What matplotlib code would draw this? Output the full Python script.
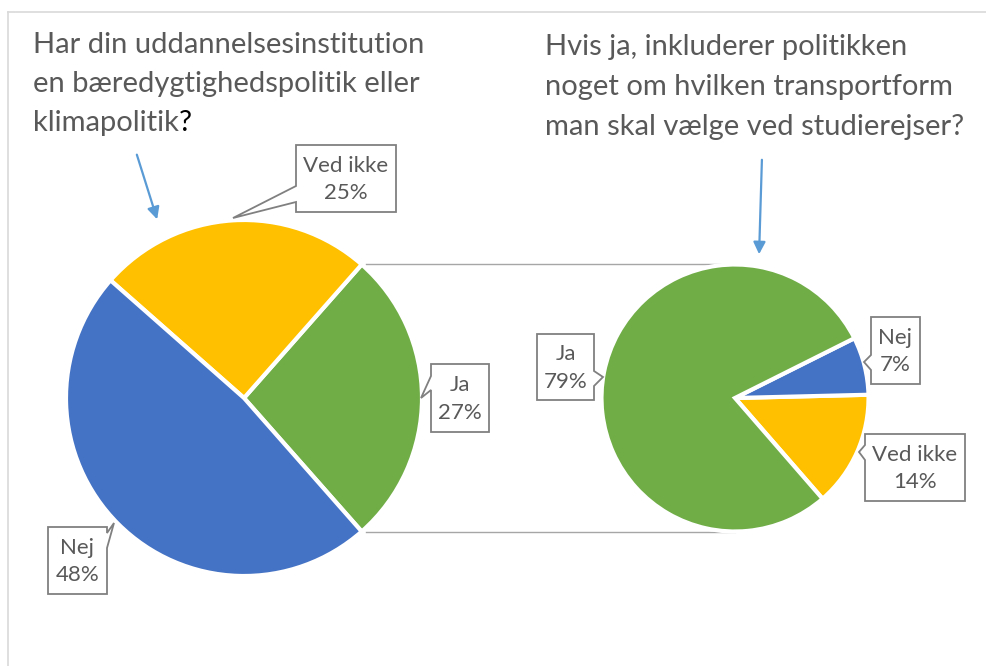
import numpy as np
import matplotlib.pyplot as plt
from matplotlib.patches import Polygon

plt.rcParams['font.family'] = ['Lato', 'DejaVu Sans']

# data
labels_main = ['Ja', 'Ved ikke', 'Nej']
values_main = [27, 25, 48]
colors_main = ['#70AD47', '#FFC000', '#4472C4']

labels_sub = ['Ved ikke', 'Nej', 'Ja']
values_sub = [14, 7, 79]
colors_sub = ['#FFC000', '#4472C4', '#70AD47']

title_main = ['Har din uddannelsesinstitution', 'en bæredygtighedspolitik eller', 'klimapolitik']
title_sub = ['Hvis ja, inkluderer politikken', 'noget om hvilken transportform',
             'man skal vælge ved studierejser?']

W, H = 986, 666
TXT = '#595959'
EDGE = '#808080'


def P(x, y):
    # pixel position (y down) -> data coords (y up)
    return (x, H - y)


fig = plt.figure(figsize=(W / 100, H / 100), dpi=100)
ax = fig.add_axes([0, 0, 1, 1])

# main pie, "Ja" slice centred on the right side
half = values_main[0] / 100 * 360 / 2
c1, r1 = P(244, 398), 178
ax.pie(values_main, colors=colors_main, startangle=-half, center=c1, radius=r1,
       wedgeprops=dict(edgecolor='white', linewidth=3), frame=True)

# secondary pie
r2 = r1 * np.sin(np.radians(half))
c2 = P(735, 398)
ax.pie(values_sub, colors=colors_sub, startangle=-49, center=c2, radius=r2,
       wedgeprops=dict(edgecolor='white', linewidth=3), frame=True)

# connector lines
for s in (1, -1):
    x0 = c1[0] + r1 * np.cos(np.radians(half)) + 4
    y0 = c1[1] + s * r1 * np.sin(np.radians(half))
    ax.plot([x0, c2[0]], [y0, c2[1] + s * r2], color='#A6A6A6', lw=1, zorder=0)

ax.set_xlim(0, W)
ax.set_ylim(0, H)
ax.axis('off')

# chart border (partly visible)
ax.plot([8, W], [H - 12, H - 12], color='#D9D9D9', lw=1.2)
ax.plot([8, 8], [H - 12, 0], color='#D9D9D9', lw=1.2)

# titles
tfs = 21
for i, line in enumerate(title_main):
    t = ax.text(*P(33, 53 + 39 * i), line, fontsize=tfs, color=TXT, va='baseline', ha='left')
ax.annotate('?', xy=(1, 0), xycoords=t, fontsize=tfs, color='black', va='bottom', ha='left')
for i, line in enumerate(title_sub):
    ax.text(*P(545, 55 + 40 * i), line, fontsize=tfs, color=TXT, va='baseline', ha='left')

# arrows
arrow = dict(arrowstyle='-|>', color='#5B9BD5', lw=1.6, mutation_scale=18)
ax.annotate('', xy=P(158, 222), xytext=P(136, 152), arrowprops=arrow)
ax.annotate('', xy=P(759, 257), xytext=P(762, 157), arrowprops=arrow)


def callout(box, side, tail, text):
    x0, y0, x1, y1 = box
    (a, b), tip = tail[:2], tail[2]
    if side == 'left':
        pts = [(x0, y0), (x1, y0), (x1, y1), (x0, y1), (x0, b), tip, (x0, a)]
    elif side == 'right':
        pts = [(x0, y0), (x1, y0), (x1, a), tip, (x1, b), (x1, y1), (x0, y1)]
    else:  # top
        pts = [(x0, y0), (a, y0), tip, (b, y0), (x1, y0), (x1, y1), (x0, y1)]
    ax.add_patch(Polygon([P(*p) for p in pts], closed=True, facecolor='white',
                         edgecolor=EDGE, lw=1.3, zorder=5))
    ax.text(*P((x0 + x1) / 2, (y0 + y1) / 2 + 1), text, ha='center', va='center',
            fontsize=16, color=TXT, linespacing=1.45, zorder=6)


def lab(names, vals, name):
    return f"{name}\n{vals[names.index(name)]}%"


callout((296, 145, 396, 212), 'left', (186, 202, (233, 218)), lab(labels_main, values_main, 'Ved ikke'))
callout((431, 364, 489, 432), 'left', (376, 390, (421, 398)), lab(labels_main, values_main, 'Ja'))
callout((48, 527, 107, 594), 'right', (533, 548, (114, 523)), lab(labels_main, values_main, 'Nej'))
callout((537, 334, 594, 400), 'right', (371, 386, (603, 377)), lab(labels_sub, values_sub, 'Ja'))
callout((871, 317, 920, 384), 'left', (355, 370, (864, 362)), lab(labels_sub, values_sub, 'Nej'))
callout((865, 434, 965, 501), 'left', (445, 460, (859, 452)), lab(labels_sub, values_sub, 'Ved ikke'))

fig.savefig('out.png', dpi=100)
